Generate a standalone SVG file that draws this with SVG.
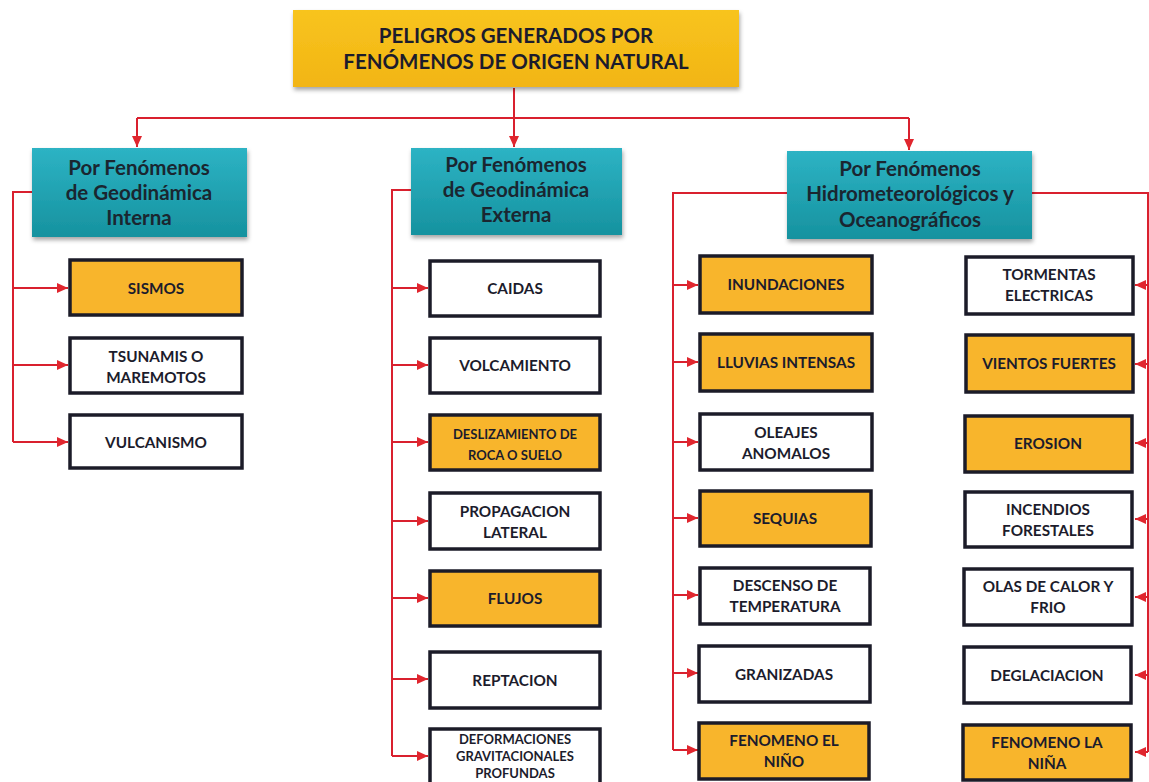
<svg xmlns="http://www.w3.org/2000/svg" width="1149" height="782" viewBox="0 0 1149 782">
<defs>
<style>
.t{font-family:Lato,"Open Sans","Liberation Sans",sans-serif;font-weight:bold;fill:#1c1c2c;text-anchor:middle}
.title{font-size:20.5px}
.cat{font-size:20.5px;fill:#1a2630}
.it{font-size:15.3px}
.sm{font-size:13px}
.box{stroke:#1b1b28;stroke-width:3.5}
.w{fill:#ffffff}
.o{fill:#F8B52C}
.c{fill:none;stroke:#D9202E;stroke-width:2}
</style>
<linearGradient id="teal" x1="0" y1="0" x2="0" y2="1">
<stop offset="0" stop-color="#2DB3C4"/>
<stop offset="1" stop-color="#16929F"/>
</linearGradient>
<linearGradient id="gold" x1="0" y1="0" x2="0" y2="1">
<stop offset="0" stop-color="#F8C41E"/>
<stop offset="1" stop-color="#F2B514"/>
</linearGradient>
<filter id="sh" x="-5%" y="-5%" width="112%" height="125%">
<feDropShadow dx="1" dy="3" stdDeviation="2" flood-color="#000" flood-opacity="0.35"/>
</filter>
<marker id="ar" markerUnits="userSpaceOnUse" markerWidth="12" markerHeight="12" refX="11" refY="6" orient="auto">
<path d="M0,1 L11,6 L0,11 Z" fill="#E0262E"/>
</marker>
</defs>

<g id="connectors">
<path class="c" d="M514,88 V118"/>
<path class="c" d="M137,118 H909"/>
<path class="c" d="M137,118 V147" marker-end="url(#ar)"/>
<path class="c" d="M514,118 V147" marker-end="url(#ar)"/>
<path class="c" d="M909,118 V150" marker-end="url(#ar)"/>
<path class="c" d="M32,192 H13 V442"/>
<path class="c" d="M13,288 H68" marker-end="url(#ar)"/>
<path class="c" d="M13,365 H68" marker-end="url(#ar)"/>
<path class="c" d="M13,442 H68" marker-end="url(#ar)"/>
<path class="c" d="M411,190 H392 V756"/>
<path class="c" d="M392,288 H428" marker-end="url(#ar)"/>
<path class="c" d="M392,365 H428" marker-end="url(#ar)"/>
<path class="c" d="M392,442 H428" marker-end="url(#ar)"/>
<path class="c" d="M392,521 H428" marker-end="url(#ar)"/>
<path class="c" d="M392,598 H428" marker-end="url(#ar)"/>
<path class="c" d="M392,679 H428" marker-end="url(#ar)"/>
<path class="c" d="M392,756 H428" marker-end="url(#ar)"/>
<path class="c" d="M787,193 H673 V750"/>
<path class="c" d="M673,285 H698" marker-end="url(#ar)"/>
<path class="c" d="M673,362 H698" marker-end="url(#ar)"/>
<path class="c" d="M673,442 H698" marker-end="url(#ar)"/>
<path class="c" d="M673,518 H698" marker-end="url(#ar)"/>
<path class="c" d="M673,595 H698" marker-end="url(#ar)"/>
<path class="c" d="M673,673 H698" marker-end="url(#ar)"/>
<path class="c" d="M673,750 H698" marker-end="url(#ar)"/>
<path class="c" d="M1032,193 H1148 V752"/>
<path class="c" d="M1148,285 H1135" marker-end="url(#ar)"/>
<path class="c" d="M1148,364 H1135" marker-end="url(#ar)"/>
<path class="c" d="M1148,443 H1135" marker-end="url(#ar)"/>
<path class="c" d="M1148,519 H1135" marker-end="url(#ar)"/>
<path class="c" d="M1148,597 H1135" marker-end="url(#ar)"/>
<path class="c" d="M1148,675 H1135" marker-end="url(#ar)"/>
<path class="c" d="M1148,752 H1135" marker-end="url(#ar)"/>
</g>

<g id="root">
<rect x="293" y="10" width="446" height="77" fill="url(#gold)" filter="url(#sh)"/>
<text class="t title" x="516" y="43">PELIGROS GENERADOS POR</text>
<text class="t title" x="516" y="69">FENÓMENOS DE ORIGEN NATURAL</text>
</g>

<g id="cat-interna">
<rect x="32" y="148" width="215" height="89" fill="url(#teal)" filter="url(#sh)"/>
<text class="t cat" x="139" y="175">Por Fenómenos</text>
<text class="t cat" x="139" y="200">de Geodinámica</text>
<text class="t cat" x="139" y="225">Interna</text>
</g>
<g id="cat-externa">
<rect x="411" y="148" width="211" height="87" fill="url(#teal)" filter="url(#sh)"/>
<text class="t cat" x="516" y="172">Por Fenómenos</text>
<text class="t cat" x="516" y="197">de Geodinámica</text>
<text class="t cat" x="516" y="222">Externa</text>
</g>
<g id="cat-hidro">
<rect x="787" y="151" width="245" height="88" fill="url(#teal)" filter="url(#sh)"/>
<text class="t cat" x="910" y="176">Por Fenómenos</text>
<text class="t cat" x="910" y="201">Hidrometeorológicos y</text>
<text class="t cat" x="910" y="227">Oceanográficos</text>
</g>

<g id="sismos"><rect class="box o" x="70" y="260" width="172" height="55"/><text class="t it" x="156" y="294">SISMOS</text></g>
<g id="tsunamis"><rect class="box w" x="70" y="338" width="172" height="55"/><text class="t it" x="156" y="362">TSUNAMIS O</text><text class="t it" x="156" y="383">MAREMOTOS</text></g>
<g id="vulcanismo"><rect class="box w" x="70" y="415" width="172" height="53"/><text class="t it" x="156" y="448">VULCANISMO</text></g>

<g id="caidas"><rect class="box w" x="430" y="261" width="170" height="55"/><text class="t it" x="515" y="294">CAIDAS</text></g>
<g id="volcamiento"><rect class="box w" x="430" y="338" width="170" height="55"/><text class="t it" x="515" y="371">VOLCAMIENTO</text></g>
<g id="deslizamiento"><rect class="box o" x="430" y="415" width="170" height="55"/><text class="t sm" x="515" y="439">DESLIZAMIENTO DE</text><text class="t sm" x="515" y="460">ROCA O SUELO</text></g>
<g id="propagacion"><rect class="box w" x="430" y="493" width="170" height="56"/><text class="t it" x="515" y="517">PROPAGACION</text><text class="t it" x="515" y="538">LATERAL</text></g>
<g id="flujos"><rect class="box o" x="430" y="571" width="170" height="55"/><text class="t it" x="515" y="604">FLUJOS</text></g>
<g id="reptacion"><rect class="box w" x="430" y="652" width="170" height="56"/><text class="t it" x="515" y="686">REPTACION</text></g>
<g id="deformaciones"><rect class="box w" x="430" y="729" width="170" height="58"/><text class="t sm" x="515" y="744">DEFORMACIONES</text><text class="t sm" x="515" y="761">GRAVITACIONALES</text><text class="t sm" x="515" y="778">PROFUNDAS</text></g>

<g id="inundaciones"><rect class="box o" x="700" y="256" width="172" height="57"/><text class="t it" x="786" y="290">INUNDACIONES</text></g>
<g id="lluvias"><rect class="box o" x="700" y="334" width="172" height="57"/><text class="t it" x="786" y="368">LLUVIAS INTENSAS</text></g>
<g id="oleajes"><rect class="box w" x="700" y="414" width="172" height="56"/><text class="t it" x="786" y="438">OLEAJES</text><text class="t it" x="786" y="459">ANOMALOS</text></g>
<g id="sequias"><rect class="box o" x="700" y="491" width="171" height="55"/><text class="t it" x="785" y="524">SEQUIAS</text></g>
<g id="descenso"><rect class="box w" x="700" y="568" width="170" height="56"/><text class="t it" x="785" y="591">DESCENSO DE</text><text class="t it" x="785" y="612">TEMPERATURA</text></g>
<g id="granizadas"><rect class="box w" x="699" y="646" width="171" height="56"/><text class="t it" x="784" y="680">GRANIZADAS</text></g>
<g id="nino"><rect class="box o" x="699" y="723" width="170" height="56"/><text class="t it" x="784" y="746">FENOMENO EL</text><text class="t it" x="784" y="767">NIÑO</text></g>

<g id="tormentas"><rect class="box w" x="966" y="257" width="167" height="57"/><text class="t it" x="1049" y="280">TORMENTAS</text><text class="t it" x="1049" y="301">ELECTRICAS</text></g>
<g id="vientos"><rect class="box o" x="966" y="335" width="167" height="57"/><text class="t it" x="1049" y="369">VIENTOS FUERTES</text></g>
<g id="erosion"><rect class="box o" x="965" y="416" width="167" height="56"/><text class="t it" x="1048" y="449">EROSION</text></g>
<g id="incendios"><rect class="box w" x="965" y="492" width="167" height="55"/><text class="t it" x="1048" y="515">INCENDIOS</text><text class="t it" x="1048" y="536">FORESTALES</text></g>
<g id="olas"><rect class="box w" x="964" y="569" width="168" height="56"/><text class="t it" x="1048" y="592">OLAS DE CALOR Y</text><text class="t it" x="1048" y="613">FRIO</text></g>
<g id="deglaciacion"><rect class="box w" x="964" y="647" width="167" height="56"/><text class="t it" x="1047" y="681">DEGLACIACION</text></g>
<g id="nina"><rect class="box o" x="963" y="725" width="168" height="55"/><text class="t it" x="1047" y="748">FENOMENO LA</text><text class="t it" x="1047" y="769">NIÑA</text></g>
</svg>
